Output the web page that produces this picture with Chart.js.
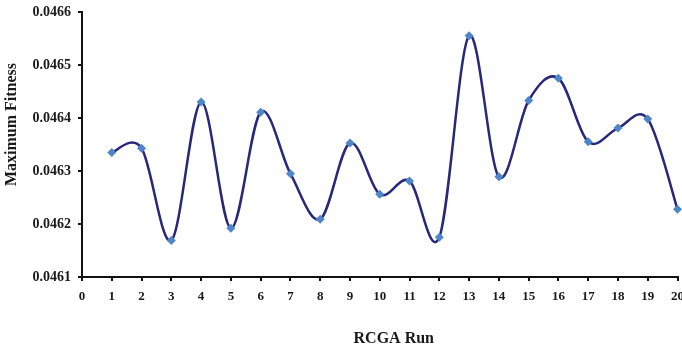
<!DOCTYPE html>
<html>
<head>
<meta charset="utf-8">
<script src="https://cdn.jsdelivr.net/npm/chart.js@4"></script>
<style>
  html, body { margin: 0; padding: 0; background: #ffffff; }
  #wrap { width: 682px; height: 348px; }
</style>
</head>
<body>
<div id="wrap"><canvas id="chart" width="682" height="348"></canvas></div>
<script>
// RCGA runs and the best fitness reached in each one
const runs = [1, 2, 3, 4, 5, 6, 7, 8, 9, 10, 11, 12, 13, 14, 15, 16, 17, 18, 19, 20];
const maxFitness = [
  0.046335, 0.046343, 0.046169, 0.046430, 0.046192,
  0.046411, 0.046295, 0.046209, 0.046353, 0.046256,
  0.046281, 0.046175, 0.046555, 0.046289, 0.046433,
  0.046475, 0.046355, 0.046381, 0.046398, 0.046228
];
const xTitle = 'RCGA Run';
const yTitle = 'Maximum Fitness';
const yMin = 0.0461, yMax = 0.0466, yStep = 0.0001;
const xMin = 0, xMax = 20;

const FONT = '"Liberation Serif", "Times New Roman", serif';

// Uniform Catmull-Rom control points for the smoothed line
// (tangent at each point = (next - prev) / 6 in pixel space).
const catmullRom = {
  id: 'catmullRom',
  beforeDatasetDraw(chart, args) {
    const meta = args.meta;
    if (meta.type !== 'line') return;
    meta.dataset.updateControlPoints(chart.chartArea, meta.iScale.axis);
    const pts = meta.data;
    const n = pts.length;
    for (let i = 0; i < n; i++) {
      const p = pts[i];
      const prev = pts[Math.max(i - 1, 0)];
      const next = pts[Math.min(i + 1, n - 1)];
      const tx = (next.x - prev.x) / 6;
      const ty = (next.y - prev.y) / 6;
      p.cp1x = p.x - tx;
      p.cp1y = p.y - ty;
      p.cp2x = p.x + tx;
      p.cp2y = p.y + ty;
    }
  }
};

// Axis titles placed next to the plot frame
const axisTitles = {
  id: 'axisTitles',
  afterDraw(chart) {
    const ctx = chart.ctx;
    const area = chart.chartArea;
    ctx.save();
    ctx.fillStyle = '#1a1a1a';
    ctx.font = 'bold 16px ' + FONT;
    ctx.textAlign = 'center';
    ctx.textBaseline = 'middle';
    ctx.fillText(xTitle, area.left + (area.right - area.left) / 2 + 14, 339);
    ctx.translate(12, area.top + (area.bottom - area.top) / 2 - 20);
    ctx.rotate(-Math.PI / 2);
    ctx.fillText(yTitle, 0, 0);
    ctx.restore();
  }
};

new Chart(document.getElementById('chart'), {
  type: 'line',
  data: {
    datasets: [{
      data: runs.map((r, i) => ({ x: r, y: maxFitness[i] })),
      borderColor: '#28287a',
      borderWidth: 2.5,
      tension: 0.4,
      pointStyle: 'rectRot',
      pointRadius: 4.5,
      pointBackgroundColor: '#4f86c9',
      pointBorderColor: '#4f86c9',
      pointBorderWidth: 0,
      clip: false
    }]
  },
  options: {
    responsive: false,
    animation: false,
    layout: { padding: { left: 0, right: 3, top: 12, bottom: 0 } },
    plugins: { legend: { display: false }, tooltip: { enabled: false } },
    scales: {
      x: {
        type: 'linear',
        min: xMin,
        max: xMax,
        border: { display: true, color: '#111', width: 2 },
        grid: { display: true, drawOnChartArea: false, drawTicks: true, tickLength: 4, color: '#111', lineWidth: 2 },
        ticks: {
          stepSize: 1,
          autoSkip: false,
          maxRotation: 0,
          padding: 8,
          color: '#1a1a1a',
          font: { family: FONT, size: 13, weight: 'bold' }
        },
        afterFit(scale) {
          scale.height = 71;
          scale.paddingLeft = 0;
          scale.paddingRight = 0;
        }
      },
      y: {
        min: yMin,
        max: yMax,
        border: { display: true, color: '#111', width: 2 },
        grid: { display: true, drawOnChartArea: false, drawTicks: true, tickLength: 4, color: '#111', lineWidth: 2 },
        ticks: {
          stepSize: yStep,
          padding: 7,
          color: '#1a1a1a',
          font: { family: FONT, size: 14, weight: 'bold' },
          callback: (v) => Number(v).toFixed(4)
        },
        afterFit(scale) {
          scale.width = 82;
          scale.paddingTop = 0;
          scale.paddingBottom = 0;
        }
      }
    }
  },
  plugins: [catmullRom, axisTitles]
});
</script>
</body>
</html>
